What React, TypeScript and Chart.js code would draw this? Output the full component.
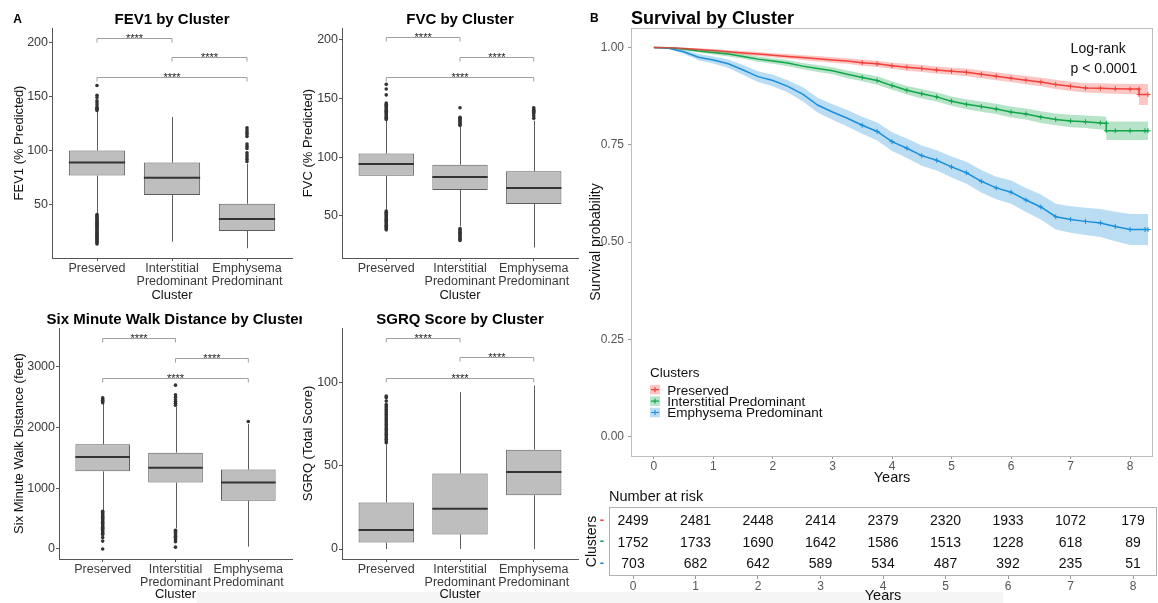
import React, { useEffect, useRef } from 'react';
import { Chart, registerables } from 'chart.js';

Chart.register(...registerables);

const FONT = "'Liberation Sans', Arial, Helvetica, sans-serif";
Chart.defaults.font.family = FONT;

// ---------- Panel A: shared categories ----------
const CLUSTER_NAMES = ['Preserved', 'Interstitial Predominant', 'Emphysema Predominant'];
const CLUSTER_TICK_LABELS = [['Preserved'], ['Interstitial', 'Predominant'], ['Emphysema', 'Predominant']];
const CLUSTER_POS = [1, 2, 3];
const BRACKET_PAIRS = [[1, 2], [2, 3], [1, 3]];
const BRACKET_LABELS = ['****', '****', '****'];

// ---------- FEV1 ----------
const FEV1_Q1 = [77, 59, 26];
const FEV1_MEDIAN = [89, 75, 37];
const FEV1_Q3 = [100, 89, 51];
const FEV1_WHISKER_LOW = [42, 16, 10];
const FEV1_WHISKER_HIGH = [136, 131, 88];
const FEV1_OUT_PRESERVED = [160, 151, 149, 146, 144, 142, 140, 139, 138, 137, 41, 40, 39, 38, 37, 36, 35, 34, 33, 32, 31, 30, 29, 28, 27, 26, 25, 24, 23, 22, 21, 20, 19, 18, 17, 16, 15, 14];
const FEV1_OUT_INTERSTITIAL: number[] = [];
const FEV1_OUT_EMPHYSEMA = [121, 119, 117, 115, 113, 106, 104, 102, 98, 96, 94, 92, 90];
const FEV1_BRACKET_Y = [203.7, 186, 168];
const FEV1_TICKS = [50, 100, 150, 200];

// ---------- FVC ----------
const FVC_Q1 = [84, 72, 60];
const FVC_MEDIAN = [94, 83, 73.6];
const FVC_Q3 = [103, 93.5, 88];
const FVC_WHISKER_LOW = [55, 41, 23];
const FVC_WHISKER_HIGH = [131, 126, 131];
const FVC_OUT_PRESERVED = [162, 158, 153, 146, 145, 144, 143, 142, 141, 140, 139, 138, 137, 136, 135, 134, 133, 132, 54, 53, 52, 51, 50, 49, 48, 47, 46, 45, 44, 43, 42, 41, 40, 39, 38];
const FVC_OUT_INTERSTITIAL = [142, 134, 133, 132, 131, 130, 129, 128, 127, 39, 38, 37, 36, 35, 34, 33, 32, 31, 30, 29];
const FVC_OUT_EMPHYSEMA = [142, 141, 140, 139, 138, 137, 135, 133];
const FVC_BRACKET_Y = [202, 185, 168.5];
const FVC_TICKS = [50, 100, 150, 200];

// ---------- Six minute walk ----------
const SMWD_Q1 = [1280, 1094, 797];
const SMWD_MEDIAN = [1516, 1340, 1094];
const SMWD_Q3 = [1725, 1588, 1308];
const SMWD_WHISKER_LOW = [640, 340, 40];
const SMWD_WHISKER_HIGH = [2390, 2340, 2060];
const SMWD_OUT_PRESERVED = [2490, 2470, 2450, 2430, 2410, 620, 600, 580, 560, 540, 520, 500, 480, 460, 440, 420, 400, 380, 360, 340, 320, 300, 280, 260, 240, 190, 130, 0];
const SMWD_OUT_INTERSTITIAL = [2700, 2540, 2500, 2460, 2430, 2400, 2370, 310, 290, 270, 250, 230, 210, 190, 170, 150, 120, 30];
const SMWD_OUT_EMPHYSEMA = [2100];
const SMWD_BRACKET_Y = [3473, 3153, 2824];
const SMWD_TICKS = [0, 1000, 2000, 3000];

// ---------- SGRQ ----------
const SGRQ_Q1 = [3.9, 8.8, 32.4];
const SGRQ_MEDIAN = [11.5, 24.3, 46.4];
const SGRQ_Q3 = [28, 45.5, 59.8];
const SGRQ_WHISKER_LOW = [0, 0, 0];
const SGRQ_WHISKER_HIGH = [63, 94.4, 98.4];
const SGRQ_OUT_PRESERVED = [64, 65, 66, 67, 68, 69, 70, 71, 72, 73, 74, 75, 76, 77, 78, 79, 80, 81, 82, 83, 84, 85, 86, 87, 89, 91, 92];
const SGRQ_OUT_INTERSTITIAL: number[] = [];
const SGRQ_OUT_EMPHYSEMA: number[] = [];
const SGRQ_BRACKET_Y = [127, 115.3, 103];
const SGRQ_TICKS = [0, 50, 100];

// ---------- Panel B: survival ----------
const TIMES_PRESERVED = [0, 0.25, 0.5, 0.75, 1, 1.25, 1.5, 1.75, 2, 2.25, 2.5, 2.75, 3, 3.25, 3.5, 3.75, 4, 4.25, 4.5, 4.75, 5, 5.25, 5.5, 5.75, 6, 6.25, 6.5, 6.75, 7, 7.25, 7.5, 7.75, 8, 8.15, 8.15, 8.3];
const SURV_PRESERVED = [1, .999, .997, .995, .992, .989, .986, .983, .980, .977, .974, .971, .968, .965, .961, .958, .953, .949, .946, .942, .939, .936, .931, .926, .921, .916, .911, .905, .900, .896, .895, .894, .893, .893, .879, .879];
const LOW_PRESERVED = [1, .998, .995, .992, .988, .985, .981, .978, .975, .971, .968, .964, .961, .958, .953, .950, .945, .940, .937, .933, .930, .926, .921, .916, .911, .905, .900, .893, .888, .884, .882, .881, .880, .880, .852, .852];
const HIGH_PRESERVED = [1, 1, .999, .998, .996, .993, .991, .988, .985, .983, .980, .978, .975, .972, .969, .966, .961, .958, .955, .951, .948, .946, .941, .936, .931, .927, .922, .917, .912, .908, .908, .907, .906, .906, .906, .906];

const TIMES_INTERSTITIAL = [0, 0.25, 0.5, 0.75, 1, 1.25, 1.5, 1.75, 2, 2.25, 2.5, 2.75, 3, 3.25, 3.5, 3.75, 4, 4.25, 4.5, 4.75, 5, 5.25, 5.5, 5.75, 6, 6.25, 6.5, 6.75, 7, 7.25, 7.5, 7.6, 7.6, 7.75, 8, 8.25, 8.3];
const SURV_INTERSTITIAL = [1, .999, .996, .991, .987, .983, .977, .970, .965, .960, .952, .946, .940, .931, .923, .915, .902, .890, .881, .873, .862, .854, .848, .842, .834, .829, .821, .815, .811, .809, .806, .805, .786, .786, .786, .786, .786];
const LOW_INTERSTITIAL = [1, .998, .993, .987, .982, .977, .971, .963, .958, .952, .944, .937, .931, .921, .913, .904, .891, .879, .869, .861, .850, .841, .835, .829, .820, .815, .806, .800, .795, .793, .789, .788, .762, .762, .762, .762, .762];
const HIGH_INTERSTITIAL = [1, 1, .999, .995, .992, .989, .983, .977, .972, .968, .960, .955, .949, .941, .933, .926, .913, .901, .893, .885, .874, .867, .861, .855, .848, .843, .836, .830, .827, .825, .823, .822, .810, .810, .810, .810, .810];

const TIMES_EMPHYSEMA = [0, 0.25, 0.5, 0.75, 1, 1.25, 1.5, 1.75, 2, 2.25, 2.5, 2.75, 3, 3.25, 3.5, 3.75, 4, 4.25, 4.5, 4.75, 5, 5.25, 5.5, 5.75, 6, 6.25, 6.5, 6.75, 7, 7.25, 7.5, 7.75, 8, 8.25, 8.3];
const SURV_EMPHYSEMA = [1, .998, .989, .975, .968, .958, .942, .925, .915, .900, .880, .852, .834, .818, .800, .784, .758, .741, .722, .710, .693, .678, .656, .639, .628, .608, .590, .565, .558, .553, .549, .540, .532, .532, .532];
const LOW_EMPHYSEMA = [1, .996, .984, .967, .959, .947, .929, .911, .900, .884, .862, .833, .814, .797, .778, .761, .734, .716, .696, .684, .666, .650, .627, .610, .598, .577, .558, .532, .524, .518, .513, .502, .492, .492, .492];
const HIGH_EMPHYSEMA = [1, 1, .994, .983, .977, .969, .955, .939, .930, .916, .898, .871, .854, .839, .822, .807, .782, .766, .748, .736, .720, .706, .685, .668, .658, .639, .622, .598, .592, .588, .585, .578, .572, .572, .572];

const SURV_TICKS = [0, 0.25, 0.5, 0.75, 1];
const YEAR_TICKS = [0, 1, 2, 3, 4, 5, 6, 7, 8];
const CENSOR_FROM = 3.5;

// ---------- Number at risk ----------
const RISK_TIMES = [0, 1, 2, 3, 4, 5, 6, 7, 8];
const RISK_PRESERVED = [2499, 2481, 2448, 2414, 2379, 2320, 1933, 1072, 179];
const RISK_INTERSTITIAL = [1752, 1733, 1690, 1642, 1586, 1513, 1228, 618, 89];
const RISK_EMPHYSEMA = [703, 682, 642, 589, 534, 487, 392, 235, 51];

const RED = 'rgb(242,65,58)';
const GREEN = 'rgb(16,166,74)';
const BLUE = 'rgb(27,143,219)';
const RED_BAND = 'rgba(242,65,58,0.3)';
const GREEN_BAND = 'rgba(16,166,74,0.3)';
const BLUE_BAND = 'rgba(27,143,219,0.3)';

const SERIES = [
  { name: CLUSTER_NAMES[0], times: TIMES_PRESERVED, surv: SURV_PRESERVED, low: LOW_PRESERVED, high: HIGH_PRESERVED, risk: RISK_PRESERVED, color: RED, band: RED_BAND },
  { name: CLUSTER_NAMES[1], times: TIMES_INTERSTITIAL, surv: SURV_INTERSTITIAL, low: LOW_INTERSTITIAL, high: HIGH_INTERSTITIAL, risk: RISK_INTERSTITIAL, color: GREEN, band: GREEN_BAND },
  { name: CLUSTER_NAMES[2], times: TIMES_EMPHYSEMA, surv: SURV_EMPHYSEMA, low: LOW_EMPHYSEMA, high: HIGH_EMPHYSEMA, risk: RISK_EMPHYSEMA, color: BLUE, band: BLUE_BAND },
];

const AXIS_COLOR = '#555';
const TICK_TEXT = '#3a3a3a';

interface BoxSpec {
  title: string; yTitle: string; letter?: string;
  q1: number[]; median: number[]; q3: number[]; whiskerLow: number[]; whiskerHigh: number[];
  outliers: number[][]; bracketY: number[]; yMin: number; yMax: number; yTicks: number[];
  yAxisWidth: number; yTitlePad: number; padTop: number; padRight: number; xAxisHeight: number;
}

function boxPlugin(s: BoxSpec) {
  return {
    id: 'boxExtras',
    beforeDatasetsDraw(chart: any) {
      const { ctx } = chart; const x = chart.scales.x; const y = chart.scales.y;
      ctx.save();
      ctx.strokeStyle = '#5c5c5c'; ctx.lineWidth = 1;
      CLUSTER_POS.forEach((p, i) => {
        const px = Math.round(x.getPixelForValue(p)) + 0.5;
        ctx.beginPath();
        ctx.moveTo(px, y.getPixelForValue(s.q3[i])); ctx.lineTo(px, y.getPixelForValue(s.whiskerHigh[i]));
        ctx.moveTo(px, y.getPixelForValue(s.q1[i])); ctx.lineTo(px, y.getPixelForValue(s.whiskerLow[i]));
        ctx.stroke();
      });
      ctx.restore();
    },
    afterDatasetsDraw(chart: any) {
      const { ctx } = chart; const y = chart.scales.y;
      const meta = chart.getDatasetMeta(0);
      ctx.save();
      ctx.strokeStyle = '#333'; ctx.lineWidth = 2;
      meta.data.forEach((bar: any, i: number) => {
        const py = y.getPixelForValue(s.median[i]);
        ctx.beginPath();
        ctx.moveTo(bar.x - bar.width / 2, py); ctx.lineTo(bar.x + bar.width / 2, py);
        ctx.stroke();
      });
      ctx.restore();
    },
    afterDraw(chart: any) {
      const { ctx, chartArea } = chart; const x = chart.scales.x; const y = chart.scales.y;
      ctx.save();
      BRACKET_PAIRS.forEach((pair, i) => {
        const x1 = x.getPixelForValue(pair[0]); const x2 = x.getPixelForValue(pair[1]);
        const yb = Math.round(y.getPixelForValue(s.bracketY[i])) + 0.5;
        ctx.strokeStyle = '#a0a0a0'; ctx.lineWidth = 1;
        ctx.beginPath();
        ctx.moveTo(x1, yb + 4); ctx.lineTo(x1, yb); ctx.lineTo(x2, yb); ctx.lineTo(x2, yb + 4);
        ctx.stroke();
        ctx.fillStyle = '#222'; ctx.font = `11px ${FONT}`;
        ctx.textAlign = 'center'; ctx.textBaseline = 'alphabetic';
        ctx.fillText(BRACKET_LABELS[i], (x1 + x2) / 2, yb + 3);
      });
      ctx.fillStyle = '#000'; ctx.font = `bold 15px ${FONT}`;
      ctx.textAlign = 'center'; ctx.textBaseline = 'alphabetic';
      ctx.fillText(s.title, (chartArea.left + chartArea.right) / 2, chartArea.top - 4);
      if (s.letter) {
        ctx.font = `bold 12px ${FONT}`; ctx.textAlign = 'left';
        ctx.fillText(s.letter, 13.3, 22.7);
      }
      ctx.restore();
    },
  };
}

function makeBoxConfig(s: BoxSpec): any {
  const outliers: { x: number; y: number }[] = [];
  s.outliers.forEach((arr, i) => arr.forEach((v) => outliers.push({ x: CLUSTER_POS[i], y: v })));
  return {
    type: 'bar',
    data: {
      datasets: [
        {
          type: 'bar',
          data: CLUSTER_POS.map((p, i) => ({ x: p, y: [s.q1[i], s.q3[i]] })),
          backgroundColor: '#BEBEBE', borderColor: '#5c5c5c', borderWidth: 1, borderSkipped: false,
          barPercentage: 0.75, categoryPercentage: 1, order: 1,
        },
        {
          type: 'scatter', data: outliers, pointRadius: 1.8, pointBackgroundColor: '#333',
          pointBorderWidth: 0, order: 0,
        },
      ],
    },
    options: {
      animation: false, responsive: false,
      layout: { padding: { top: s.padTop, right: s.padRight, left: 0, bottom: 0 } },
      plugins: { legend: { display: false }, tooltip: { enabled: false }, title: { display: false } },
      scales: {
        x: {
          type: 'linear', min: 0.4, max: 3.6, offset: false,
          afterBuildTicks: (sc: any) => { sc.ticks = CLUSTER_POS.map((v) => ({ value: v })); },
          afterFit: (sc: any) => { sc.height = s.xAxisHeight; },
          ticks: {
            callback: (v: any) => CLUSTER_TICK_LABELS[CLUSTER_POS.indexOf(Number(v))],
            autoSkip: false, maxRotation: 0, minRotation: 0, padding: 1, color: TICK_TEXT,
            font: { family: FONT, size: 12.5, lineHeight: 1.05 },
          },
          grid: { display: true, drawOnChartArea: false, drawTicks: true, tickLength: 3, color: AXIS_COLOR, offset: false },
          border: { display: true, color: AXIS_COLOR, width: 1 },
          title: { display: true, text: 'Cluster', color: '#111', font: { family: FONT, size: 13 }, padding: { top: 0, bottom: 0.7 } },
        },
        y: {
          type: 'linear', min: s.yMin, max: s.yMax,
          afterBuildTicks: (sc: any) => { sc.ticks = s.yTicks.map((v) => ({ value: v })); },
          afterFit: (sc: any) => { sc.width = s.yAxisWidth; },
          ticks: { callback: (v: any) => String(v), padding: 1, color: TICK_TEXT, font: { family: FONT, size: 12.5 } },
          grid: { display: true, drawOnChartArea: false, drawTicks: true, tickLength: 3, color: AXIS_COLOR },
          border: { display: true, color: AXIS_COLOR, width: 1 },
          title: { display: true, text: s.yTitle, color: '#111', font: { family: FONT, size: 13 }, padding: { top: s.yTitlePad, bottom: 0 } },
        },
      },
    },
    plugins: [boxPlugin(s)],
  };
}

const FEV1_SPEC: BoxSpec = {
  title: 'FEV1 by Cluster', yTitle: 'FEV1 (% Predicted)', letter: 'A',
  q1: FEV1_Q1, median: FEV1_MEDIAN, q3: FEV1_Q3, whiskerLow: FEV1_WHISKER_LOW, whiskerHigh: FEV1_WHISKER_HIGH,
  outliers: [FEV1_OUT_PRESERVED, FEV1_OUT_INTERSTITIAL, FEV1_OUT_EMPHYSEMA], bracketY: FEV1_BRACKET_Y,
  yMin: 1, yMax: 213, yTicks: FEV1_TICKS, yAxisWidth: 52, yTitlePad: 11.2, padTop: 28, padRight: 8, xAxisHeight: 46,
};
const FVC_SPEC: BoxSpec = {
  title: 'FVC by Cluster', yTitle: 'FVC (% Predicted)',
  q1: FVC_Q1, median: FVC_MEDIAN, q3: FVC_Q3, whiskerLow: FVC_WHISKER_LOW, whiskerHigh: FVC_WHISKER_HIGH,
  outliers: [FVC_OUT_PRESERVED, FVC_OUT_INTERSTITIAL, FVC_OUT_EMPHYSEMA], bracketY: FVC_BRACKET_Y,
  yMin: 14, yMax: 210, yTicks: FVC_TICKS, yAxisWidth: 52, yTitlePad: 10.5, padTop: 28, padRight: 12, xAxisHeight: 46,
};
const SMWD_SPEC: BoxSpec = {
  title: 'Six Minute Walk Distance by Cluster', yTitle: 'Six Minute Walk Distance (feet)',
  q1: SMWD_Q1, median: SMWD_MEDIAN, q3: SMWD_Q3, whiskerLow: SMWD_WHISKER_LOW, whiskerHigh: SMWD_WHISKER_HIGH,
  outliers: [SMWD_OUT_PRESERVED, SMWD_OUT_INTERSTITIAL, SMWD_OUT_EMPHYSEMA], bracketY: SMWD_BRACKET_Y,
  yMin: -165, yMax: 3642, yTicks: SMWD_TICKS, yAxisWidth: 59, yTitlePad: 11.7, padTop: 26, padRight: 10, xAxisHeight: 44,
};
const SGRQ_SPEC: BoxSpec = {
  title: 'SGRQ Score by Cluster', yTitle: 'SGRQ (Total Score)',
  q1: SGRQ_Q1, median: SGRQ_MEDIAN, q3: SGRQ_Q3, whiskerLow: SGRQ_WHISKER_LOW, whiskerHigh: SGRQ_WHISKER_HIGH,
  outliers: [SGRQ_OUT_PRESERVED, SGRQ_OUT_INTERSTITIAL, SGRQ_OUT_EMPHYSEMA], bracketY: SGRQ_BRACKET_Y,
  yMin: -6, yMax: 133, yTicks: SGRQ_TICKS, yAxisWidth: 52, yTitlePad: 10.5, padTop: 26, padRight: 12, xAxisHeight: 44,
};

function survivalConfig(): any {
  const datasets: any[] = [];
  SERIES.forEach((s) => {
    datasets.push({
      label: s.name + ' lower', data: s.times.map((t, i) => ({ x: t, y: s.low[i] })),
      borderColor: 'transparent', borderWidth: 0, pointRadius: 0, fill: false,
    });
    datasets.push({
      label: s.name + ' upper', data: s.times.map((t, i) => ({ x: t, y: s.high[i] })),
      borderColor: 'transparent', borderWidth: 0, pointRadius: 0, fill: '-1', backgroundColor: s.band,
    });
  });
  SERIES.forEach((s) => {
    datasets.push({
      label: s.name, data: s.times.map((t, i) => ({ x: t, y: s.surv[i] })),
      borderColor: s.color, backgroundColor: s.color, borderWidth: 1.5, fill: false,
      pointStyle: 'cross', pointRadius: (c: any) => (c.raw && c.raw.x >= CENSOR_FROM ? 2.5 : 0),
      pointBorderColor: s.color, pointBorderWidth: 1,
    });
  });
  const plugin = {
    id: 'survExtras',
    afterDraw(chart: any) {
      const { ctx, chartArea } = chart; const x = chart.scales.x; const y = chart.scales.y;
      ctx.save();
      ctx.strokeStyle = '#bdbdbd'; ctx.lineWidth = 1;
      ctx.strokeRect(Math.round(chartArea.left) + 0.5, Math.round(chartArea.top) + 0.5,
        Math.round(chartArea.right - chartArea.left) - 1, Math.round(chartArea.bottom - chartArea.top));
      ctx.fillStyle = '#000'; ctx.textAlign = 'left'; ctx.textBaseline = 'alphabetic';
      ctx.font = `bold 18px ${FONT}`;
      ctx.fillText('Survival by Cluster', chartArea.left, 24);
      ctx.font = `bold 12px ${FONT}`;
      ctx.fillText('B', 10, 22.3);
      ctx.font = `14px ${FONT}`; ctx.fillStyle = '#111';
      const lx = x.getPixelForValue(7.0);
      ctx.fillText('Log-rank', lx, y.getPixelForValue(0.985));
      ctx.fillText('p < 0.0001', lx, y.getPixelForValue(0.9335));
      const legX = chartArea.left + 19;
      ctx.font = `13.5px ${FONT}`; ctx.fillStyle = '#111';
      ctx.fillText('Clusters', legX, 377.3);
      SERIES.forEach((s, i) => {
        const base = 394.5 + i * 11.4;
        const cy = base - 4.8;
        ctx.fillStyle = s.band; ctx.fillRect(legX, cy - 4.8, 10, 9.6);
        ctx.strokeStyle = s.color; ctx.lineWidth = 1.2;
        ctx.beginPath();
        ctx.moveTo(legX + 1, cy); ctx.lineTo(legX + 9, cy);
        ctx.moveTo(legX + 5, cy - 2.5); ctx.lineTo(legX + 5, cy + 2.5);
        ctx.stroke();
        ctx.fillStyle = '#111';
        ctx.fillText(s.name, legX + 17.3, base);
      });
      ctx.restore();
    },
  };
  return {
    type: 'line',
    data: { datasets },
    options: {
      animation: false, responsive: false,
      layout: { padding: { top: 28, right: 1, left: 0, bottom: 0 } },
      plugins: { legend: { display: false }, tooltip: { enabled: false } },
      scales: {
        x: {
          type: 'linear', min: -0.384, max: 8.384,
          afterBuildTicks: (sc: any) => { sc.ticks = YEAR_TICKS.map((v) => ({ value: v })); },
          afterFit: (sc: any) => { sc.height = 31; },
          ticks: { callback: (v: any) => String(v), padding: 0, color: '#555', font: { family: FONT, size: 12 }, maxRotation: 0, autoSkip: false },
          grid: { display: true, drawOnChartArea: false, drawTicks: true, tickLength: 3, color: '#999' },
          border: { display: false },
          title: { display: true, text: 'Years', color: '#111', font: { family: FONT, size: 14.5 }, padding: { top: 0, bottom: 0.3 } },
        },
        y: {
          type: 'linear', min: -0.05, max: 1.05,
          afterBuildTicks: (sc: any) => { sc.ticks = SURV_TICKS.map((v) => ({ value: v })); },
          afterFit: (sc: any) => { sc.width = 51; },
          ticks: { callback: (v: any) => Number(v).toFixed(2), padding: 4, color: '#555', font: { family: FONT, size: 12 } },
          grid: { display: true, drawOnChartArea: false, drawTicks: true, tickLength: 3, color: '#999' },
          border: { display: false },
          title: { display: true, text: 'Survival probability', color: '#111', font: { family: FONT, size: 14 }, padding: { top: 7.6, bottom: 0 } },
        },
      },
    },
    plugins: [plugin],
  };
}

function riskConfig(): any {
  const plugin = {
    id: 'riskExtras',
    afterDatasetsDraw(chart: any) {
      const { ctx } = chart;
      ctx.save();
      ctx.font = `14px ${FONT}`; ctx.fillStyle = '#111';
      ctx.textAlign = 'center'; ctx.textBaseline = 'alphabetic';
      SERIES.forEach((s, r) => {
        const meta = chart.getDatasetMeta(r);
        meta.data.forEach((pt: any, i: number) => {
          ctx.fillText(String(s.risk[i]), pt.x, pt.y + 5);
        });
      });
      ctx.restore();
    },
    afterDraw(chart: any) {
      const { ctx, chartArea } = chart;
      ctx.save();
      ctx.strokeStyle = '#b3b3b3'; ctx.lineWidth = 1;
      ctx.strokeRect(Math.round(chartArea.left) + 0.5, Math.round(chartArea.top) + 0.5,
        Math.round(chartArea.right - chartArea.left) - 1, Math.round(chartArea.bottom - chartArea.top) - 1);
      ctx.fillStyle = '#111'; ctx.font = `14.5px ${FONT}`;
      ctx.textAlign = 'left'; ctx.textBaseline = 'alphabetic';
      ctx.fillText('Number at risk', chartArea.left, 14);
      ctx.restore();
    },
  };
  return {
    type: 'scatter',
    data: {
      datasets: SERIES.map((s, r) => ({
        label: s.name, data: RISK_TIMES.map((t) => ({ x: t, y: CLUSTER_POS[r] })), pointRadius: 0,
      })),
    },
    options: {
      animation: false, responsive: false,
      layout: { padding: { top: 20, right: 1, left: 0, bottom: 0 } },
      plugins: { legend: { display: false }, tooltip: { enabled: false } },
      scales: {
        x: {
          type: 'linear', min: -0.384, max: 8.384,
          afterBuildTicks: (sc: any) => { sc.ticks = RISK_TIMES.map((v) => ({ value: v })); },
          afterFit: (sc: any) => { sc.height = 29; },
          ticks: { callback: (v: any) => String(v), padding: 0, color: '#555', font: { family: FONT, size: 12 }, maxRotation: 0, autoSkip: false },
          grid: { display: true, drawOnChartArea: false, drawTicks: true, tickLength: 3, color: '#999' },
          border: { display: false },
          title: { display: true, text: 'Years', color: '#111', font: { family: FONT, size: 14.5 }, padding: { top: 0, bottom: 0 } },
        },
        y: {
          type: 'linear', min: 0.4, max: 3.6, reverse: true,
          afterBuildTicks: (sc: any) => { sc.ticks = CLUSTER_POS.map((v) => ({ value: v })); },
          afterFit: (sc: any) => { sc.width = 29; },
          ticks: {
            callback: () => '-', padding: 5,
            color: (c: any) => SERIES[c.index] ? SERIES[c.index].color : '#000',
            font: { family: FONT, size: 13, weight: 'bold' },
          },
          grid: { display: false, drawTicks: false },
          border: { display: false },
          title: { display: true, text: 'Clusters', color: '#111', font: { family: FONT, size: 14 }, padding: { top: 4.1, bottom: 0 } },
        },
      },
    },
    plugins: [plugin],
  };
}

function ChartCanvas(props: { left: number; top: number; width: number; height: number; make: () => any }) {
  const ref = useRef<HTMLCanvasElement>(null);
  useEffect(() => {
    const chart = new Chart(ref.current as HTMLCanvasElement, props.make());
    return () => chart.destroy();
  }, []);
  const { left, top, width, height } = props;
  return (
    <div style={{ position: 'absolute', left, top, width, height }}>
      <canvas ref={ref} width={width} height={height} style={{ width, height, display: 'block' }} />
    </div>
  );
}

export default function App() {
  return (
    <div style={{ position: 'absolute', left: 0, top: 0, width: 1158, height: 603, background: '#fff', overflow: 'hidden' }}>
      <div style={{ position: 'absolute', left: 197, top: 592, width: 806, height: 11, background: '#f5f5f5' }} />
      <ChartCanvas left={0} top={0} width={300} height={304} make={() => makeBoxConfig(FEV1_SPEC)} />
      <ChartCanvas left={290} top={0} width={300} height={304} make={() => makeBoxConfig(FVC_SPEC)} />
      <ChartCanvas left={0} top={302} width={302} height={301} make={() => makeBoxConfig(SMWD_SPEC)} />
      <ChartCanvas left={290} top={302} width={300} height={301} make={() => makeBoxConfig(SGRQ_SPEC)} />
      <ChartCanvas left={580} top={0} width={578} height={487} make={survivalConfig} />
      <ChartCanvas left={580} top={487} width={578} height={118} make={riskConfig} />
    </div>
  );
}
